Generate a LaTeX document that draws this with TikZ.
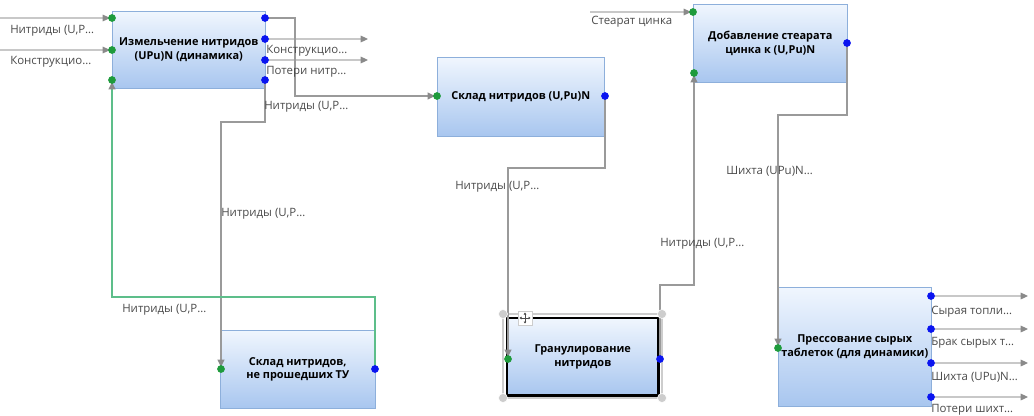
\documentclass[tikz,border=0pt]{standalone}
\usepackage{fontspec}
\setmainfont{Open Sans}
\usetikzlibrary{arrows.meta}
\definecolor{blockTop}{HTML}{F0F6FE}
\definecolor{blockBottom}{HTML}{A8C6EF}
\definecolor{blockBorder}{HTML}{8DAFDB}
\definecolor{flowColor}{HTML}{9A9A9A}
\definecolor{freeFlowColor}{HTML}{C8C8C8}
\definecolor{tipColor}{HTML}{8A8A8A}
\definecolor{labelColor}{HTML}{4A4A4A}
\definecolor{loopColor}{HTML}{5DBE8A}
\definecolor{inPortColor}{HTML}{1E9B3C}
\definecolor{outPortColor}{HTML}{0A14F0}
\definecolor{handleColor}{HTML}{CDCDCD}
\tikzstyle{canvas} = [x=0.75pt, y=-0.75pt]
\tikzstyle{blockStyle} = [draw=blockBorder, top color=blockTop, bottom color=blockBottom, anchor=north west, align=center, inner sep=0pt, font=\fontsize{8.2}{10}\selectfont\bfseries]
\tikzstyle{flowTip} = [-{Triangle[length=5.5pt, width=5pt, color=tipColor]}, shorten >=1.5pt]
\tikzstyle{flowLine} = [draw=flowColor, line width=1.5pt, flowTip]
\tikzstyle{freeLine} = [draw=freeFlowColor, line width=0.8pt, flowTip]
\tikzstyle{loopLine} = [draw=loopColor, line width=1.3pt, flowTip]
\tikzstyle{flowLabel} = [anchor=west, inner sep=0pt, text=labelColor, font=\fontsize{8.6}{10}\selectfont]
\newcommand{\portR}{2.9pt}
\newcommand{\block}[6]{\node [blockStyle, minimum width=#4*0.75pt, minimum height=#5*0.75pt] (#1) at (#2,#3) {#6};}
\newcommand{\port}[3]{\coordinate (#1) at (#2,#3);}
\newcommand{\inDot}[1]{\fill [inPortColor] (#1) circle (\portR);}
\newcommand{\outDot}[1]{\fill [outPortColor] (#1) circle (\portR);}
\newcommand{\handle}[2]{\filldraw [fill=handleColor, draw=white, line width=0.4pt] (#1,#2) circle (3.4pt);}

\begin{document}
\begin{tikzpicture}[canvas]
\useasboundingbox (0,0) rectangle (1034,415);

\block{grind}{112}{11}{153}{77}{Измельчение нитридов\\(UPu)N (динамика)}
\block{store}{437}{57}{167}{79}{Склад нитридов (U,Pu)N}
\block{reject}{220}{330}{155}{78}{Склад нитридов,\\не прошедших ТУ}
\block{zinc}{693}{4}{154}{78}{Добавление стеарата\\цинка к (U,Pu)N}
\block{press}{778}{287}{153}{119}{Прессование сырых\\таблеток (для динамики)}
\draw [handleColor, line width=2pt] (503,314) rectangle (662,398);
\block{granule}{507}{318}{151}{77}{Гранулирование\\нитридов}
\draw [black, line width=1.6pt] (granule.north west) rectangle (granule.south east);

\port{grindInA}{112}{18} \port{grindInB}{112}{50} \port{grindInC}{112}{80}
\port{grindOutA}{265}{18} \port{grindOutB}{265}{39} \port{grindOutC}{265}{60} \port{grindOutD}{265}{80}
\port{storeIn}{437}{96} \port{storeOut}{605}{96}
\port{rejectIn}{221}{369} \port{rejectOut}{375}{369}
\port{granuleIn}{508}{359} \port{granuleOut}{660}{359}
\port{zincInA}{693}{12} \port{zincInB}{694}{73} \port{zincOut}{847}{43}
\port{pressIn}{778}{348}
\port{pressOutA}{931}{296} \port{pressOutB}{931}{329} \port{pressOutC}{931}{363} \port{pressOutD}{931}{397}
\port{srcA}{0}{18} \port{srcB}{0}{50} \port{srcC}{590}{12}
\port{sinkA}{370}{39} \port{sinkB}{370}{60}
\port{sinkC}{1030}{296} \port{sinkD}{1030}{329} \port{sinkE}{1030}{363} \port{sinkF}{1030}{397}

\draw [freeLine] (srcA) -- (grindInA);
\draw [freeLine] (srcB) -- (grindInB);
\draw [freeLine] (srcC) -- (zincInA);
\draw [freeLine] (grindOutB) -- (sinkA);
\draw [freeLine] (grindOutC) -- (sinkB);
\draw [flowLine] (grindOutA) -- ++(30,0) |- (storeIn);
\draw [flowLine] (grindOutD) -- ++(0,42) -| (rejectIn);
\draw [loopLine] (rejectOut) -- ++(0,-72) -| (grindInC);
\draw [flowLine] (storeOut) -- ++(0,72) -| (granuleIn);
\draw [flowLine] (granuleOut) -- ++(0,-74) -| (zincInB);
\draw [flowLine] (zincOut) -- ++(0,72) -| (pressIn);
\foreach \p/\s in {pressOutA/sinkC, pressOutB/sinkD, pressOutC/sinkE, pressOutD/sinkF}
  {\draw [freeLine] (\p) -- (\s);}

\foreach \p in {grindInA, grindInB, grindInC, storeIn, rejectIn, granuleIn, zincInA, zincInB, pressIn}
  {\inDot{\p}}
\foreach \p in {grindOutA, grindOutB, grindOutC, grindOutD, storeOut, rejectOut, granuleOut, zincOut, pressOutA, pressOutB, pressOutC, pressOutD}
  {\outDot{\p}}

\handle{503}{314} \handle{662}{314} \handle{503}{398} \handle{662}{398}
\filldraw [fill=white, draw=handleColor, line width=0.5pt] (518,311) rectangle (532,325);
\draw [black!70, line width=0.5pt, {Triangle[length=1.5pt, width=2pt]}-{Triangle[length=1.5pt, width=2pt]}] (519.5,318) -- (530.5,318);
\draw [black!70, line width=0.5pt, {Triangle[length=1.5pt, width=2pt]}-{Triangle[length=1.5pt, width=2pt]}] (525,312.5) -- (525,323.5);

\node [flowLabel] (labA) at (10,31) {Нитриды (U,P…};
\node [flowLabel] (labB) at (10,62) {Конструкцио…};
\node [flowLabel] (labC) at (266,51) {Конструкцио…};
\node [flowLabel] (labD) at (266,72) {Потери нитр…};
\node [flowLabel] (labE) at (264,107) {Нитриды (U,P…};
\node [flowLabel] (labF) at (221,214) {Нитриды (U,P…};
\node [flowLabel] (labG) at (122,310) {Нитриды (U,P…};
\node [flowLabel] (labH) at (455,187) {Нитриды (U,P…};
\node [flowLabel] (labI) at (660,244) {Нитриды (U,P…};
\node [flowLabel] (labJ) at (591,22) {Стеарат цинка};
\node [flowLabel] (labK) at (726,171) {Шихта (UPu)N…};
\node [flowLabel] (labL) at (931,312) {Сырая топли…};
\node [flowLabel] (labM) at (931,343) {Брак сырых т…};
\node [flowLabel] (labN) at (931,377) {Шихта (UPu)N…};
\node [flowLabel] (labO) at (931,410) {Потери шихт…};
\end{tikzpicture}
\end{document}
